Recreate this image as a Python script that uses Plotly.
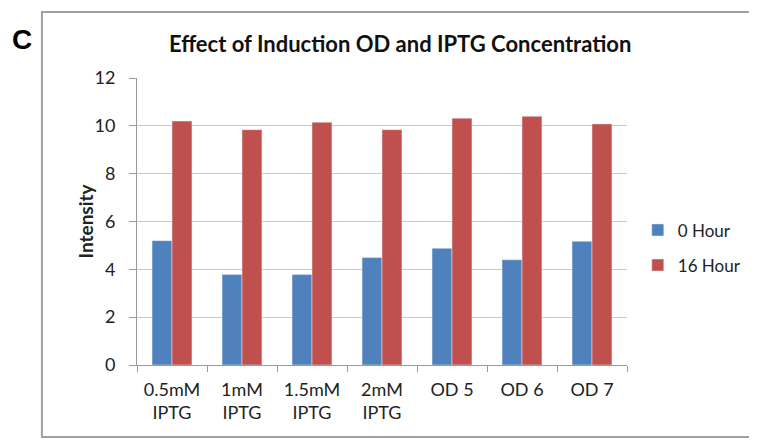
import plotly.graph_objects as go

categories = ["0.5mM<br>IPTG", "1mM<br>IPTG", "1.5mM<br>IPTG", "2mM<br>IPTG", "OD 5", "OD 6", "OD 7"]
hour_0 = [5.2, 3.78, 3.78, 4.49, 4.88, 4.4, 5.17]
hour_16 = [10.2, 9.84, 10.15, 9.84, 10.32, 10.4, 10.08]

FONT = "Lato, 'Open Sans', sans-serif"

fig = go.Figure()

fig.add_trace(go.Bar(x=categories, y=hour_0, name="0 Hour", legendgroup="a",
                     marker=dict(color="#4F81BD")))
fig.add_trace(go.Bar(x=categories, y=hour_16, name="16 Hour", legendgroup="b",
                     marker=dict(color="#C0504D")))

# the page body adds an 8px offset, so margins are shifted to compensate
fig.update_layout(
    width=757,
    height=446,
    paper_bgcolor="white",
    plot_bgcolor="white",
    font=dict(family=FONT, size=18, color="#222222"),
    margin=dict(l=129, r=138, t=70, b=89, autoexpand=False),
    barmode="group",
    bargap=0.43,
    bargroupgap=0,
    title=dict(
        text="<b>Effect of Induction OD and IPTG Concentration</b>",
        x=0.518,
        xanchor="center",
        y=0.919,
        yanchor="middle",
        font=dict(family=FONT, size=22, color="#111111"),
    ),
    legend=dict(
        x=1.022,
        y=0.408,
        xanchor="left",
        yanchor="middle",
        font=dict(family=FONT, size=17),
        itemwidth=30,
        traceorder="grouped",
        tracegroupgap=10,
        bgcolor="rgba(0,0,0,0)",
    ),
    showlegend=True,
)

fig.update_xaxes(
    automargin=False,
    showline=True,
    linecolor="#9A9A9A",
    ticks="outside",
    tickson="boundaries",
    tickcolor="#9A9A9A",
    ticklen=6,
    ticklabelstandoff=8,
    showgrid=False,
    tickfont=dict(size=18),
)

fig.update_yaxes(
    automargin=False,
    range=[0, 12],
    dtick=2,
    showline=True,
    linecolor="#9A9A9A",
    ticks="outside",
    tickcolor="#9A9A9A",
    ticklen=7,
    ticklabelstandoff=10,
    gridcolor="#C8C8C8",
    zeroline=False,
    tickfont=dict(size=18),
)

# y axis title placed by hand, closer to the tick labels
fig.add_annotation(
    text="<b>Intensity</b>",
    xref="paper",
    yref="paper",
    x=-0.106,
    y=0.5,
    textangle=-90,
    xanchor="center",
    yanchor="middle",
    showarrow=False,
    font=dict(family=FONT, size=19, color="#222222"),
)

# outer frame of the chart
fig.add_shape(
    type="rect",
    xref="paper",
    yref="paper",
    x0=-0.194,
    x1=1.4,
    y0=-0.251,
    y1=1.23,
    line=dict(color="#A0A0A0", width=2),
    fillcolor="rgba(0,0,0,0)",
    layer="below",
)

fig.add_annotation(
    text="<b>C</b>",
    xref="paper",
    yref="paper",
    x=-0.235,
    y=1.135,
    xanchor="center",
    yanchor="middle",
    showarrow=False,
    font=dict(family="Arial, 'Liberation Sans', sans-serif", size=28, color="black"),
)

fig.write_html("out.html")
